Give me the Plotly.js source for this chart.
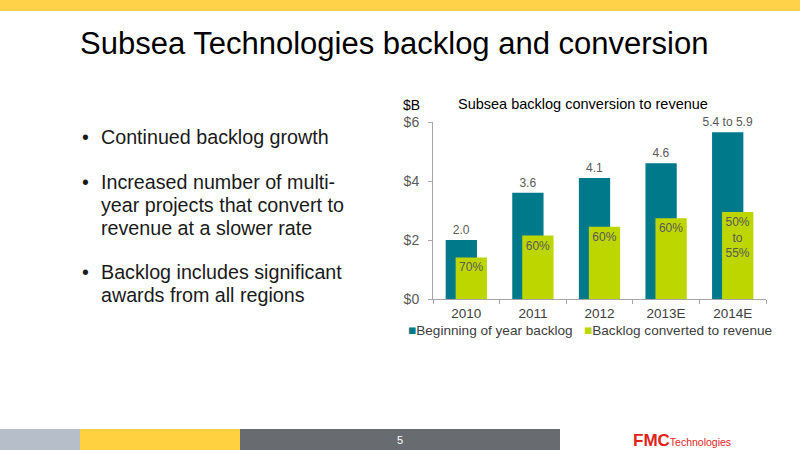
<!DOCTYPE html>
<html>
<head>
<meta charset="utf-8">
<script src="https://cdn.plot.ly/plotly-3.0.1.min.js"></script>
<style>html,body{margin:0;padding:0;background:#fff;}#chart{width:800px;height:450px;}</style>
</head>
<body>
<div id="chart"></div>
<script>
// ---- data ----
var years = ["2010", "2011", "2012", "2013E", "2014E"];
var backlog = [2.0, 3.6, 4.1, 4.6, 5.65];
var backlogLabels = ["2.0", "3.6", "4.1", "4.6", "5.4 to 5.9"];
var converted = [1.41, 2.15, 2.45, 2.74, 2.95];
var convertedLabels = ["70%", "60%", "60%", "60%", "50%<br>to<br>55%"];
var seriesNames = ["Beginning of year backlog", "Backlog converted to revenue"];
var yTicks = [0, 2, 4, 6];
var yTickText = ["$0", "$2", "$4", "$6"];
var slideTitle = "Subsea Technologies backlog and conversion";
var chartTitle = "Subsea backlog conversion to revenue";
var unitLabel = "$B";
var bullets = [
  ["Continued backlog growth"],
  ["Increased number of multi-", "year projects that convert to", "revenue at a slower rate"],
  ["Backlog includes significant", "awards from all regions"]
];
var pageNumber = "5";

// ---- styling ----
var TEAL = "#007A8B", LIME = "#BDD600";
var FONT = "Liberation Sans, Arial, Helvetica, sans-serif";
var W = 800, H = 450, L = 433, R = 34, T = 122, B = 151;
var PW = W - L - R, PH = H - T - B;
function px(x) { return (x - L) / PW; }
function py(y) { return (H - B - y) / PH; }

var traces = [
  { type: "bar", x: years, y: backlog, name: seriesNames[0], marker: { color: TEAL },
    offset: -0.31, width: 0.47, text: backlogLabels, textposition: "outside",
    textfont: { size: 12, color: "#595959", family: FONT }, constraintext: "none",
    cliponaxis: false, hoverinfo: "x+y", showlegend: false },
  { type: "bar", x: years, y: converted, name: seriesNames[1], marker: { color: LIME },
    offset: -0.16, width: 0.47, text: convertedLabels, textposition: "inside",
    insidetextanchor: "end",
    textfont: { size: 12, color: "#595959", family: FONT }, constraintext: "none",
    cliponaxis: false, hoverinfo: "x+y", showlegend: false }
];

var ann = [];
var shapes = [];
function A(x, y, text, size, color, xanchor, extra) {
  var o = { xref: "paper", yref: "paper", x: px(x), y: py(y), text: text, showarrow: false,
    xanchor: xanchor || "left", yanchor: "middle", font: { size: size, color: color, family: FONT } };
  for (var k in (extra || {})) o[k] = extra[k];
  ann.push(o);
}
function rect(x0, y0, x1, y1, c) {
  shapes.push({ type: "rect", xref: "paper", yref: "paper", x0: px(x0), x1: px(x1), y0: py(y1), y1: py(y0),
    fillcolor: c, line: { width: 0 }, layer: "below" });
}
// slide decor
rect(0, 0, 800, 11, "#FFD24A");
rect(0, 429, 80, 450, "#B5BEC9");
rect(80, 429, 240, 450, "#FFD040");
rect(240, 429, 560, 450, "#686B70");

A(78, 43, slideTitle, 31, "#000000");
var lineY = [[137], [182, 205, 228], [272, 295]];
bullets.forEach(function (lines, i) {
  A(80, lineY[i][0], "•", 19.5, "#1a1a1a");
  lines.forEach(function (t, j) { A(99, lineY[i][j], t, 19.7, "#1a1a1a"); });
});
A(456, 104, chartTitle, 14.5, "#000000");
A(401, 105, unitLabel, 14, "#000000");
// legend
A(406, 330, '<span style="color:' + TEAL + '">■</span>' + seriesNames[0], 13.6, "#404040");
A(582, 330, '<span style="color:' + LIME + '">■</span>' + seriesNames[1], 13.6, "#404040");
A(400, 440, pageNumber, 11, "#ffffff", "center");
A(631, 440, '<b><span style="font-size:17px">FMC</span></b><span style="font-size:10.5px">Technologies</span>', 17, "#E2231A");

var layout = {
  width: W, height: H, margin: { l: L, r: R, t: T, b: B, pad: 0 },
  paper_bgcolor: "#ffffff", plot_bgcolor: "#ffffff",
  font: { family: FONT, color: "#404040" },
  barmode: "overlay", showlegend: false,
  xaxis: { type: "category", tickson: "boundaries", ticks: "outside", ticklen: 4, tickcolor: "#A6A6A6",
    showline: true, linecolor: "#A6A6A6", linewidth: 1, showgrid: false, zeroline: false,
    tickfont: { size: 13.5, color: "#404040", family: FONT }, ticklabelstandoff: 2, fixedrange: true },
  yaxis: { range: [0, 6], tickmode: "array", tickvals: yTicks, ticktext: yTickText, ticks: "outside", ticklen: 4, tickcolor: "#A6A6A6",
    showline: true, linecolor: "#A6A6A6", linewidth: 1, showgrid: false, zeroline: false,
    tickfont: { size: 14, color: "#595959", family: FONT }, ticklabelstandoff: 6, fixedrange: true },
  annotations: ann, shapes: shapes
};
Plotly.newPlot("chart", traces, layout, { displayModeBar: false, staticPlot: true });
</script>
</body>
</html>
